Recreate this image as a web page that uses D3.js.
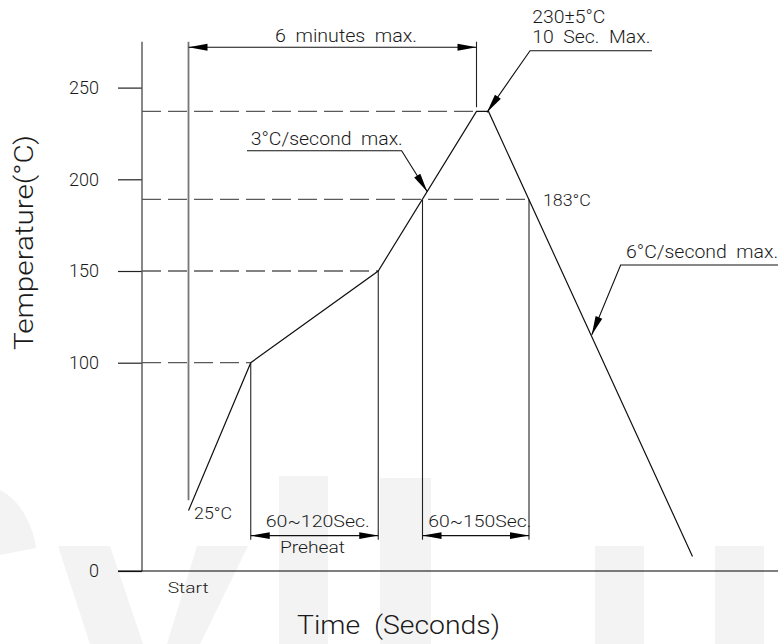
<!DOCTYPE html>
<html>
<head>
<meta charset="utf-8">
<script src="https://cdn.jsdelivr.net/npm/d3@7"></script>
<style>
  body { margin: 0; background: #fff; }
  text { font-family: Roboto, 'Noto Sans', 'DejaVu Sans', sans-serif; font-weight: 300; fill: #1a1a1a; white-space: pre; }
</style>
</head>
<body>
<div id="chart"></div>
<script>
// reflow profile (time axis is schematic, no ticks)
const profileTime = [31, 72.5, 157.5, 223, 231, 367];
const profileTemp = [29, 100, 150, 237, 237, 7];

const yTicks = [0, 100, 150, 200, 250];

// dashed reference levels and where they stop on the time axis
const refTemps = [100, 150, 189, 237];
const refEnds = [72.5, 157.5, 258, 223];

// extension lines: time, from temp, to temp
const extTimes = [223, 72.5, 157.5, 187, 258];
const extFrom = [275, 100, 150, 189, 189];
const extTo = [239.3, 15, 15, 15, 15];

// dimension lines (double arrows)
const dimStart = [31, 72.5, 187];
const dimEnd = [223, 157.5, 258];
const dimTemp = [272, 17, 17];

// leaders: underline end -> knee -> arrow tip
const leaders = [
  [[70, 215.6], [173.1, 215.6], [190.2, 193.2]],
  [[340, 270.1], [258.7, 270.1], [230, 236.5]],
  [[424, 153.3], [319.1, 153.3], [299.8, 115.1]]
];

const labels = ['6  minutes  max.', '230±5°C', '10  Sec.  Max.', '3°C/second  max.', '183°C',
  '6°C/second  max.', '25°C', '60~120Sec.', 'Preheat', '60~150Sec.', 'Start'];
const labelTime = [88.7, 260.2, 260.2, 72.5, 267.3, 322.7, 34.7, 82.5, 92, 190.9, 17.1];
const labelTemp = [274.6, 285.1, 274.2, 218.7, 185.6, 156.9, 25, 21, 8.5, 21, -10.4];
const labelLen = [142, 73, 118, 152, 48, 152, 38, 104, 65, 103, 41];
const labelSize = [18, 17.5, 17.5, 17.5, 16, 17.5, 17, 16, 16, 16, 15.5];

const W = 778, H = 644;

const svg = d3.select('#chart').append('svg')
  .attr('width', W)
  .attr('height', H);

// faint watermark in the background
const wm = svg.append('g').attr('fill', '#f3f3f3');
wm.append('path').attr('d', 'M0,490 C20,500 33,525 36,548 L0,555 Z');
wm.append('path').attr('d', 'M58,546 L110,546 L143,644 L90,644 Z');
wm.append('path').attr('d', 'M197,546 L248,546 L200,644 L167,644 Z');
[[279, 476, 49], [380, 478, 51], [595, 546, 49], [715, 546, 49]].forEach(r => {
  wm.append('rect').attr('x', r[0]).attr('y', r[1]).attr('width', r[2]).attr('height', H - r[1]);
});

const x = d3.scaleLinear()
  .domain([0, 424])
  .range([142, 778]);

// axis is broken between 0 and 100
const y = d3.scaleLinear()
  .domain([0, 100, 275])
  .range([571, 362.7, 41.75]);

function arrowHead(g, tx, ty, fx, fy, len, hw) {
  const a = Math.atan2(ty - fy, tx - fx);
  const bx = tx - len * Math.cos(a), by = ty - len * Math.sin(a);
  const nx = -Math.sin(a) * hw, ny = Math.cos(a) * hw;
  g.append('path')
    .attr('d', `M${tx},${ty} L${bx + nx},${by + ny} L${bx - nx},${by - ny} Z`)
    .attr('fill', '#000');
}

// dashed levels
refTemps.forEach((v, i) => {
  svg.append('line')
    .attr('x1', x(0)).attr('x2', x(refEnds[i]))
    .attr('y1', y(v)).attr('y2', y(v))
    .attr('stroke', '#5a5a5a')
    .attr('stroke-width', 1.3)
    .attr('stroke-dasharray', '19,7');
});

// y axis
const yAxis = svg.append('g')
  .attr('transform', `translate(${x(0)},0)`)
  .call(d3.axisLeft(y).tickValues(yTicks).tickSize(24).tickPadding(19).tickFormat(d3.format('d')));
yAxis.select('.domain').remove();
yAxis.selectAll('.tick line').attr('stroke', '#222').attr('stroke-width', 1.2);
yAxis.selectAll('.tick text')
  .style('font-size', '18px')
  .style('font-family', "Roboto, 'Noto Sans', sans-serif")
  .attr('fill', '#1a1a1a');

svg.append('line')
  .attr('x1', x(0)).attr('x2', x(0))
  .attr('y1', y(275)).attr('y2', y(0))
  .attr('stroke', '#555')
  .attr('stroke-width', 1.4);

// baseline
svg.append('line')
  .attr('x1', x(-16)).attr('x2', x(424))
  .attr('y1', y(0)).attr('y2', y(0))
  .attr('stroke', '#000')
  .attr('stroke-width', 1.2);

// start line
svg.append('line')
  .attr('x1', x(31)).attr('x2', x(31))
  .attr('y1', y(275)).attr('y2', y(34))
  .attr('stroke', '#777')
  .attr('stroke-width', 1.8);

extTimes.forEach((t, i) => {
  svg.append('line')
    .attr('x1', x(t)).attr('x2', x(t))
    .attr('y1', y(extFrom[i])).attr('y2', y(extTo[i]))
    .attr('stroke', '#222')
    .attr('stroke-width', 1.1);
});

// profile
const line = d3.line()
  .x(d => x(d[0]))
  .y(d => y(d[1]));

svg.append('path')
  .datum(profileTime.map((t, i) => [t, profileTemp[i]]))
  .attr('d', line)
  .attr('fill', 'none')
  .attr('stroke', '#111')
  .attr('stroke-width', 1.2);

// dimension lines
dimStart.forEach((t, i) => {
  const yy = y(dimTemp[i]);
  svg.append('line')
    .attr('x1', x(t)).attr('x2', x(dimEnd[i]))
    .attr('y1', yy).attr('y2', yy)
    .attr('stroke', '#111')
    .attr('stroke-width', 1.2);
  arrowHead(svg, x(t), yy, x(t) + 10, yy, 19, 3.4);
  arrowHead(svg, x(dimEnd[i]), yy, x(dimEnd[i]) - 10, yy, 19, 3.4);
});

// leaders
leaders.forEach(pts => {
  svg.append('path')
    .datum(pts)
    .attr('d', line)
    .attr('fill', 'none')
    .attr('stroke', '#111')
    .attr('stroke-width', 1.1);
  const tip = pts[2], knee = pts[1];
  arrowHead(svg, x(tip[0]), y(tip[1]), x(knee[0]), y(knee[1]), 19, 3.6);
});

// annotation text
labels.forEach((s, i) => {
  svg.append('text')
    .attr('x', x(labelTime[i]))
    .attr('y', y(labelTemp[i]))
    .attr('textLength', labelLen[i])
    .attr('lengthAdjust', 'spacingAndGlyphs')
    .style('font-size', labelSize[i] + 'px')
    .text(s);
});

// axis titles
svg.append('text')
  .attr('x', 297)
  .attr('y', 634)
  .attr('textLength', 203)
  .attr('lengthAdjust', 'spacingAndGlyphs')
  .style('font-size', '26px')
  .text('Time  (Seconds)');

svg.append('text')
  .attr('transform', 'translate(33,350) rotate(-90)')
  .attr('textLength', 215)
  .attr('lengthAdjust', 'spacingAndGlyphs')
  .style('font-size', '26px')
  .text('Temperature(°C)');
</script>
</body>
</html>
